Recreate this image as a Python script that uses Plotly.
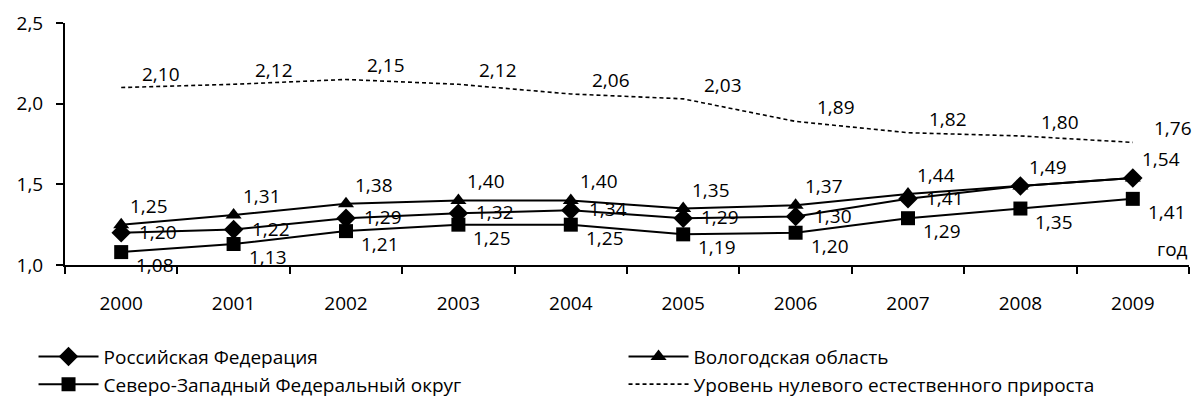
import plotly.graph_objects as go

years = ["2000", "2001", "2002", "2003", "2004", "2005", "2006", "2007", "2008", "2009"]
rf = [1.20, 1.22, 1.29, 1.32, 1.34, 1.29, 1.30, 1.41, 1.49, 1.54]
vologda = [1.25, 1.31, 1.38, 1.40, 1.40, 1.35, 1.37, 1.44, 1.49, 1.54]
nwfd = [1.08, 1.13, 1.21, 1.25, 1.25, 1.19, 1.20, 1.29, 1.35, 1.41]
zero_level = [2.10, 2.12, 2.15, 2.12, 2.06, 2.03, 1.89, 1.82, 1.80, 1.76]

names = ["Российская Федерация", "Вологодская область",
         "Северо-Западный Федеральный округ", "Уровень нулевого естественного прироста"]

FONT = "Open Sans"
fig = go.Figure()

fig.add_trace(go.Scatter(x=years, y=rf, name=names[0], mode="lines+markers",
                         line=dict(color="black", width=2),
                         marker=dict(symbol="diamond", size=15, color="black")))
fig.add_trace(go.Scatter(x=years, y=vologda, name=names[1], mode="lines+markers",
                         line=dict(color="black", width=2),
                         marker=dict(symbol="triangle-up", size=14, color="black")))
fig.add_trace(go.Scatter(x=years, y=nwfd, name=names[2], mode="lines+markers",
                         line=dict(color="black", width=2),
                         marker=dict(symbol="square", size=14, color="black")))
fig.add_trace(go.Scatter(x=years, y=zero_level, name=names[3], mode="lines",
                         line=dict(color="black", width=1.6, dash="4px,3px")))

def fmt(v):
    return f"{v:.2f}".replace(".", ",")

# label offsets per series (pixels)
series_labels = [
    (zero_level, 40, 14),
    (vologda, 28, 19),
    (rf, 37, 1),
    (nwfd, 34, -13),
]
for vals, dx, dy in series_labels:
    for i, v in enumerate(vals):
        if vals is rf and v == vologda[i]:
            continue
        fig.add_annotation(x=i, y=v, xref="x", yref="y", text=fmt(v), showarrow=False,
                           xshift=dx, yshift=dy,
                           font=dict(family=FONT, size=19, color="black"))

fig.add_annotation(x=1, xref="paper", y=1.0, yref="y", text="год", showarrow=False,
                   xanchor="right", yanchor="bottom", yshift=1, xshift=1,
                   font=dict(family=FONT, size=19, color="black"))

# page body has an 8px default margin; figure sized to fit the 1200x412 window
fig.update_layout(
    width=1192, height=404,
    margin=dict(l=57, r=11, t=15, b=147, autoexpand=False),
    paper_bgcolor="white", plot_bgcolor="white",
    separators=", ",
    font=dict(family=FONT, size=19, color="black"),
    showlegend=True,
    legend=dict(orientation="h", x=-0.028, xanchor="left", y=-0.30, yanchor="top",
                entrywidth=515, entrywidthmode="pixels",
                font=dict(family=FONT, size=19, color="black"),
                traceorder="normal", itemwidth=60, tracegroupgap=0),
)
fig.update_xaxes(type="category", showline=True, linecolor="black", linewidth=2,
                 ticks="outside", tickson="boundaries", ticklen=7, tickwidth=2,
                 tickcolor="black", showgrid=False, zeroline=False,
                 ticklabelstandoff=20, range=[-0.5, 9.5])
fig.update_yaxes(range=[1.0, 2.5], tickvals=[1.0, 1.5, 2.0, 2.5], tickformat=".1f",
                 showline=True, linecolor="black", linewidth=2,
                 ticks="outside", ticklen=7, tickwidth=2, tickcolor="black",
                 showgrid=False, zeroline=False, ticklabelstandoff=9)

fig.write_html("out.html")
